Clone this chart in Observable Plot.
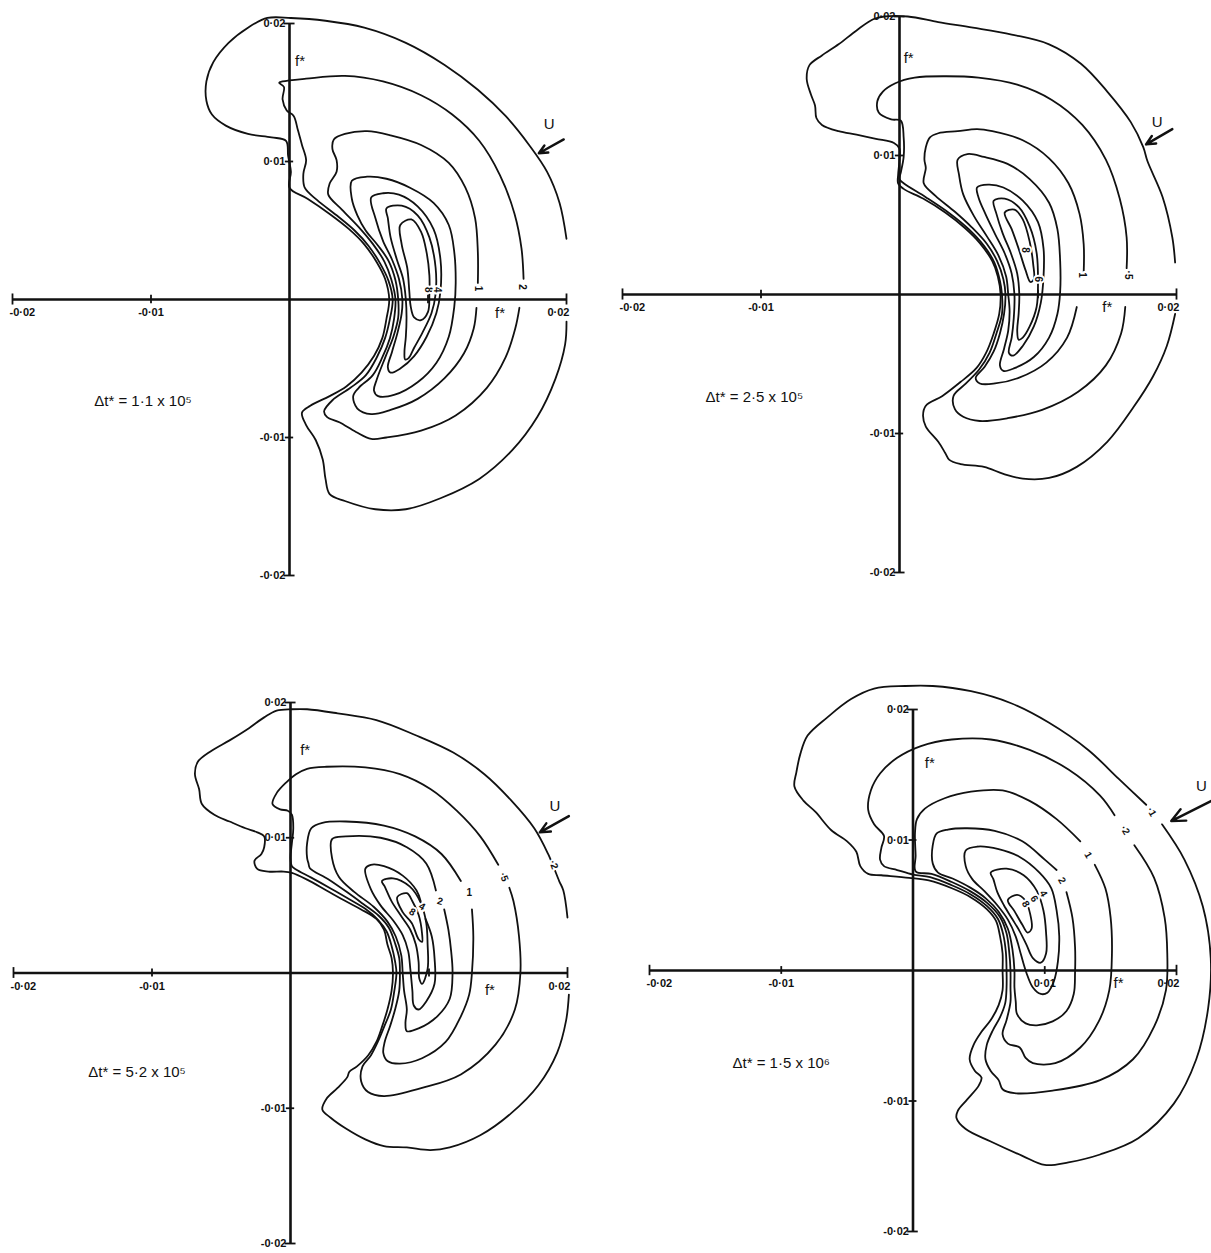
<!DOCTYPE html>
<html>
<head>
<meta charset="utf-8">
<script src="https://cdn.jsdelivr.net/npm/d3@7"></script>
<script src="https://cdn.jsdelivr.net/npm/@observablehq/plot@0.6"></script>
<style>
  html, body { margin: 0; padding: 0; background: #fff; }
  #fig { position: relative; width: 1211px; height: 1253px; overflow: hidden; background: #fff; }
  #fig svg { position: absolute; }
</style>
</head>
<body>
<div id="fig"></div>
<script>
// Contour coordinates (f*, f*) in units of 10^-3; each ring: [level, closed, points]
const ringsA = [
  ["·1", false, [[20.0,4.4],[19.5,7.0],[18.6,9.25],[17.3,11.2],[15.6,13.3],[13.6,15.2],[11.2,17.0],[8.4,18.6],[5.4,19.7],[2.6,20.2],[0.1,20.4],[-1.6,20.4],[-3.0,19.7],[-4.4,18.6],[-5.5,17.2],[-6.0,15.8],[-6.0,14.4],[-5.6,13.4],[-4.6,12.6],[-3.0,12.0],[-1.3,11.75],[-0.25,11.5],[-0.1,10.4],[0.1,9.25],[0,8.1],[1.3,7.3],[2.9,6.2],[4.3,5.1],[5.4,4.0],[6.3,2.7],[6.9,1.5],[7.2,0],[7.0,-1.4],[6.7,-2.8],[6.1,-4.1],[5.2,-5.3],[4.1,-6.3],[2.9,-7.0],[1.5,-7.7],[0.9,-8.2],[1.2,-9.1],[1.9,-10.2],[2.4,-11.6],[2.6,-13.0],[2.9,-14.1],[4.0,-14.6],[6.2,-15.2],[8.4,-15.2],[10.9,-14.4],[13.7,-13.0],[16.1,-10.9],[17.9,-8.5],[19.2,-5.75],[19.9,-3.25],[20.0,-1.6]]],
  ["·2", false, [[16.9,1.5],[16.75,3.7],[16.25,6.2],[15.2,9.0],[13.7,11.5],[11.75,13.4],[9.5,14.8],[6.75,15.8],[4.0,16.2],[1.2,16.0],[-0.5,15.8],[-0.75,15.7],[-0.4,15.4],[-0.5,14.5],[-0.2,13.7],[0.3,13.3],[0.6,12.3],[0.9,11.2],[1.2,10.1],[1.0,9.1],[1.1,8.1],[2.0,7.2],[3.4,6.1],[4.7,5.0],[5.7,3.9],[6.55,2.6],[7.15,1.35],[7.45,0],[7.25,-1.4],[6.9,-2.8],[6.3,-4.2],[5.5,-5.5],[4.4,-6.4],[3.1,-7.3],[2.5,-8.1],[2.7,-8.5],[3.6,-8.9],[4.8,-9.6],[5.9,-10.1],[7.0,-10.0],[9.5,-9.5],[12.0,-8.4],[14.25,-6.4],[15.6,-4.2],[16.3,-2.1],[16.6,-0.6]]],
  ["1", false, [[13.6,1.2],[13.6,3.4],[13.4,5.9],[12.7,8.1],[11.5,9.9],[9.5,11.2],[7.3,11.9],[5.6,12.2],[4.0,12.0],[3.2,11.6],[3.1,10.9],[3.4,10.1],[3.4,9.25],[2.9,8.4],[2.8,7.6],[3.8,6.5],[5.0,5.25],[6.0,4.05],[6.85,2.75],[7.35,1.45],[7.65,0],[7.55,-1.4],[7.25,-2.8],[6.7,-4.2],[6.0,-5.5],[5.0,-6.4],[4.6,-7.0],[4.9,-7.9],[5.9,-8.3],[7.3,-8.0],[9.25,-7.2],[11.2,-5.7],[12.6,-3.9],[13.3,-2.1],[13.5,-0.6]]],
  ["2", true, [[4.5,8.6],[5.6,8.9],[7.0,8.75],[8.7,8.1],[10.4,7.0],[11.5,5.4],[11.9,3.4],[12.0,1.2],[11.9,-0.5],[11.5,-2.7],[10.6,-4.6],[9.25,-6.0],[7.6,-6.9],[6.4,-7.0],[6.1,-6.6],[6.3,-5.8],[6.95,-4.1],[7.5,-2.7],[7.85,-1.3],[7.85,0],[7.65,1.4],[7.15,2.8],[6.4,3.9],[5.5,5.0],[4.9,6.1],[4.5,7.3]]],
  ["4", true, [[5.9,7.4],[6.75,7.7],[7.9,7.6],[9.25,6.75],[10.4,5.1],[10.9,2.9],[10.9,0.6],[10.6,-1.0],[9.9,-2.7],[9.0,-4.1],[8.0,-5.0],[7.3,-5.3],[7.1,-4.9],[7.4,-3.8],[7.8,-2.4],[8.1,-1.0],[8.15,0],[7.9,1.5],[7.4,2.9],[6.75,4.25],[6.2,5.9]]],
  ["6", true, [[7.0,6.6],[8.1,6.8],[9.25,6.1],[10.1,4.5],[10.55,2.3],[10.55,0.4],[10.25,-1.0],[9.6,-2.4],[9.0,-3.5],[8.6,-4.25],[8.35,-4.35],[8.3,-3.8],[8.4,-2.7],[8.45,-1.3],[8.4,0],[8.2,1.5],[7.75,2.9],[7.3,4.5],[7.1,5.9]]],
  ["8", true, [[8.0,5.4],[8.8,5.8],[9.5,4.9],[9.9,3.4],[10.1,1.75],[10.1,0.4],[10.0,-0.9],[9.5,-1.5],[9.0,-1.3],[8.75,-0.5],[8.65,0.6],[8.5,2.3],[8.1,4.0]]]
];

const ringsB = [
  ["·2", false, [[19.9,2.3],[19.7,4.1],[19.0,7.0],[17.9,9.6],[17.6,10.6],[16.7,12.4],[15.0,14.6],[13.1,16.6],[10.8,18.0],[8.1,18.7],[5.3,19.2],[2.8,19.6],[0.6,20.0],[-1.1,20.0],[-1.9,19.8],[-3.1,19.0],[-4.4,18.0],[-5.6,17.2],[-6.5,16.5],[-6.7,15.5],[-6.4,14.4],[-6.1,13.6],[-6.0,12.7],[-5.6,12.2],[-4.4,11.75],[-3.1,11.5],[-1.7,11.2],[-0.4,10.9],[0,10.5],[0,9.7],[-0.1,8.6],[-0.1,8.0],[0.3,7.6],[1.7,6.9],[3.3,5.9],[4.7,4.8],[5.8,3.7],[6.7,2.4],[7.1,1.3],[7.3,0],[7.2,-1.4],[6.8,-2.8],[6.25,-4.2],[5.55,-5.3],[4.4,-6.3],[3.1,-7.3],[1.9,-8.0],[1.7,-8.7],[1.9,-9.5],[2.8,-10.6],[3.3,-11.4],[3.6,-11.9],[4.4,-12.2],[6.1,-12.4],[7.5,-12.9],[8.9,-13.25],[10.8,-13.2],[12.8,-12.4],[15.0,-10.6],[16.9,-8.1],[18.3,-5.9],[19.3,-3.7],[19.9,-1.4]]],
  ["·5", false, [[16.4,1.9],[16.4,4.1],[15.9,6.9],[14.9,9.7],[13.2,12.2],[11.0,14.0],[8.5,15.1],[5.7,15.6],[3.3,15.7],[1.1,15.6],[-0.3,15.2],[-1.2,14.6],[-1.6,13.9],[-1.5,13.1],[-0.6,12.6],[0.1,12.5],[0.3,11.3],[0.3,9.9],[0.1,8.8],[0,8.3],[0.3,8.0],[1.9,7.0],[3.6,5.85],[5.0,4.7],[6.1,3.5],[6.85,2.3],[7.25,1.0],[7.4,0],[7.4,-1.4],[7.0,-2.8],[6.5,-4.2],[5.75,-5.4],[4.8,-6.4],[3.9,-7.3],[4.0,-8.25],[4.6,-8.8],[5.8,-9.1],[7.8,-8.9],[10.3,-8.3],[12.9,-7.0],[14.9,-5.1],[16.0,-2.8],[16.3,-0.9]]],
  ["1", false, [[13.3,1.6],[13.3,3.6],[13.0,5.8],[12.2,8.0],[10.8,9.8],[8.9,11.1],[6.7,11.75],[5.6,11.9],[4.2,11.75],[2.8,11.6],[2.2,11.3],[1.9,10.6],[1.8,9.7],[1.9,9.1],[1.75,8.0],[2.6,7.1],[4.0,5.95],[5.2,4.85],[6.3,3.65],[7.05,2.4],[7.5,1.1],[7.65,0],[7.55,-1.4],[7.25,-2.8],[6.8,-4.1],[6.15,-5.2],[5.5,-6.0],[5.8,-6.4],[6.9,-6.4],[8.6,-6.0],[10.6,-4.9],[12.1,-3.1],[12.8,-0.9]]],
  ["2", true, [[4.2,9.7],[4.9,10.1],[6.1,9.9],[7.8,9.4],[9.4,8.3],[10.8,6.6],[11.4,4.7],[11.6,2.4],[11.6,0.2],[11.4,-1.4],[10.8,-3.1],[9.7,-4.5],[8.3,-5.3],[7.5,-5.5],[7.25,-5.1],[7.55,-3.9],[7.85,-2.6],[7.95,-1.2],[7.85,0],[7.7,1.3],[7.15,2.8],[6.3,4.2],[5.4,5.6],[4.6,7.2],[4.3,8.6]]],
  ["4", true, [[5.6,7.7],[6.4,7.9],[7.5,7.7],[8.9,6.75],[10.0,5.2],[10.4,3.3],[10.4,1.3],[10.2,-0.6],[9.7,-2.3],[8.9,-3.7],[8.2,-4.4],[7.9,-4.2],[8.1,-3.1],[8.25,-1.7],[8.3,0],[8.1,1.5],[7.6,2.95],[6.9,4.35],[6.2,5.8],[5.7,7.0]]],
  ["6", true, [[6.8,6.75],[7.6,6.9],[8.6,6.3],[9.4,4.9],[9.9,3.0],[10.0,0.8],[9.9,-0.9],[9.4,-2.3],[8.9,-3.1],[8.6,-3.25],[8.5,-2.6],[8.6,-1.4],[8.65,0],[8.5,1.5],[8.05,2.95],[7.45,4.4],[7.0,5.8]]],
  ["8", true, [[7.6,5.9],[8.3,6.1],[8.9,5.4],[9.4,3.8],[9.65,2.2],[9.7,1.1],[9.45,0.9],[9.1,1.75],[8.6,3.3],[8.1,4.7]]]
];

const ringsC = [
  ["·2", false, [[20.0,4.1],[19.7,6.1],[19.4,6.8],[18.6,8.8],[17.6,10.7],[15.9,12.8],[14.0,14.7],[11.75,16.3],[9.0,17.6],[6.2,18.7],[3.4,19.2],[1.2,19.5],[0.1,19.5],[-1.0,19.4],[-1.9,18.9],[-3.0,18.1],[-4.4,17.2],[-5.75,16.4],[-6.7,15.6],[-6.9,14.7],[-6.6,13.6],[-6.4,12.5],[-5.5,11.7],[-4.4,11.2],[-3.25,10.7],[-2.4,10.4],[-1.9,10.1],[-1.9,9.3],[-2.1,8.8],[-2.6,8.3],[-2.4,7.7],[-1.6,7.5],[-0.5,7.5],[0.1,7.4],[1.2,6.9],[2.6,6.1],[4.0,5.3],[5.1,4.7],[6.2,4.0],[6.75,3.2],[7.0,2.1],[7.3,1.1],[7.4,0],[7.3,-1.3],[7.0,-2.7],[6.6,-4.0],[6.2,-5.1],[5.6,-6.1],[4.8,-6.9],[4.25,-7.3],[4.1,-7.7],[3.4,-8.5],[2.6,-9.3],[2.3,-10.1],[2.9,-10.7],[4.0,-11.5],[5.4,-12.3],[6.75,-12.8],[8.4,-12.9],[10.1,-13.1],[11.5,-12.9],[13.7,-12.0],[15.9,-10.4],[17.9,-8.3],[19.25,-5.9],[19.9,-3.5],[20.1,-1.6]]],
  ["·5", false, [[15.0,8.0],[13.7,10.1],[12.0,12.0],[10.1,13.6],[7.9,14.7],[5.4,15.2],[2.6,15.25],[1.2,15.1],[0.4,14.7],[-0.3,14.1],[-1.0,13.3],[-1.3,12.5],[-0.75,12.1],[-0.2,12.0],[0.1,11.7],[0.2,10.7],[0.1,9.6],[0,8.5],[0.1,7.9],[0.4,7.65],[1.5,7.05],[2.9,6.25],[4.25,5.45],[5.4,4.75],[6.35,3.9],[6.95,3.05],[7.3,2.0],[7.55,0.85],[7.65,0],[7.5,-1.3],[7.25,-2.7],[6.75,-4.0],[6.3,-5.1],[5.8,-6.1],[5.2,-6.9],[5.1,-8.0],[5.6,-8.8],[6.75,-9.1],[9.5,-8.5],[12.3,-7.5],[14.8,-5.3],[16.2,-2.7],[16.6,0],[16.5,2.7],[16.1,5.3],[15.8,6.3]]],
  ["1", false, [[12.3,6.8],[10.9,8.8],[9.0,10.1],[6.75,10.9],[4.0,11.2],[2.3,11.1],[1.5,10.7],[1.2,9.6],[1.2,8.5],[1.3,8.1],[1.4,7.75],[2.7,6.95],[4.05,6.0],[5.25,5.1],[6.35,4.25],[7.1,3.35],[7.55,2.2],[7.85,1.1],[7.9,0],[7.85,-1.3],[7.55,-2.7],[7.2,-3.9],[6.8,-5.1],[6.7,-5.9],[7.0,-6.5],[7.9,-6.7],[9.5,-6.3],[11.2,-5.1],[12.3,-3.2],[12.9,-1.6],[13.1,0],[13.2,2.7],[13.1,4.7]]],
  ["2", false, [[11.1,4.7],[11.4,3.2],[11.6,1.6],[11.7,0],[11.5,-1.9],[10.6,-3.2],[9.25,-4.1],[8.4,-4.3],[8.3,-3.7],[8.4,-2.7],[8.2,-1.3],[8.1,0],[8.0,1.3],[7.6,2.7],[7.0,3.8],[6.0,4.9],[4.6,6.0],[3.5,7.1],[3.0,8.5],[3.0,9.9],[4.0,10.1],[6.5,10.0],[8.4,9.3],[9.8,8.1],[10.5,6.1]]],
  ["4", false, [[9.75,4.0],[10.2,2.7],[10.4,1.1],[10.4,-0.8],[9.8,-2.1],[9.25,-2.7],[8.9,-2.4],[8.8,-1.3],[8.65,0.3],[8.5,1.6],[8.1,2.8],[7.4,3.9],[6.5,5.0],[5.8,6.2],[5.4,7.7],[5.8,8.0],[6.75,7.9],[8.1,7.2],[9.1,6.1],[9.4,5.3]]],
  ["6", true, [[6.6,6.8],[7.4,7.0],[8.6,6.4],[9.4,5.2],[9.8,3.7],[9.9,2.1],[9.9,0.3],[9.5,-0.8],[9.3,-0.4],[9.25,0.8],[9.05,2.1],[8.65,3.2],[8.0,4.2],[7.3,5.3],[6.8,6.4]]],
  ["8", true, [[7.7,5.6],[8.4,5.9],[8.8,5.3],[9.25,4.3],[9.5,2.9],[9.5,2.3],[9.25,2.5],[8.75,3.7],[8.1,4.5]]]
];

const ringsD = [
  ["·1", false, [[18.9,11.2],[20.6,8.5],[22.0,4.9],[22.6,0.95],[22.4,-2.9],[21.5,-6.8],[19.8,-10.2],[17.1,-12.85],[14.2,-14.1],[11.8,-14.7],[10.0,-14.9],[8.3,-14.2],[5.9,-13.1],[4.0,-12.15],[3.3,-11.3],[3.4,-10.75],[4.1,-9.9],[5.0,-8.8],[5.2,-8.2],[4.7,-7.7],[4.3,-6.8],[4.6,-5.7],[5.2,-4.7],[5.9,-3.8],[6.5,-2.65],[6.8,-1.5],[6.8,0],[6.8,1.3],[6.6,2.65],[6.3,3.8],[5.6,4.7],[4.4,5.6],[2.95,6.3],[1.2,6.9],[-0.3,7.1],[-2.4,7.3],[-3.4,7.4],[-4.0,8.0],[-4.3,9.1],[-5.0,9.9],[-6.2,10.75],[-7.4,12.15],[-8.3,13.0],[-9.0,14.1],[-8.85,15.2],[-8.55,16.6],[-8.0,18.0],[-6.5,19.4],[-4.7,20.8],[-2.95,21.6],[-0.6,21.8],[1.5,21.8],[4.4,21.4],[7.4,20.5],[10.3,19.0],[13.3,16.9],[15.6,14.7],[17.7,12.7]]],
  ["·2", false, [[16.8,9.6],[18.3,7.1],[19.1,4.05],[19.3,1.3],[19.2,-1.5],[18.3,-4.3],[16.7,-6.8],[14.2,-8.4],[10.6,-9.2],[7.7,-9.4],[6.8,-9.1],[6.5,-8.4],[5.9,-7.7],[5.5,-6.8],[5.6,-5.7],[6.05,-4.6],[6.6,-3.6],[7.0,-2.5],[7.1,-1.3],[7.1,0],[7.05,1.4],[6.85,2.75],[6.45,3.95],[5.6,4.95],[4.35,5.85],[2.9,6.55],[1.3,7.15],[0,7.35],[-1.2,7.7],[-2.2,8.0],[-2.5,8.5],[-2.4,9.4],[-2.2,10.3],[-2.95,11.2],[-3.4,12.3],[-3.2,13.8],[-2.5,15.1],[-1.2,16.3],[0.6,17.2],[2.95,17.7],[5.9,17.7],[8.85,16.9],[11.8,15.4],[14.2,13.4],[15.3,11.9]]],
  ["1", false, [[13.8,8.1],[14.6,6.3],[15.0,4.05],[15.1,1.3],[14.9,-1.5],[14.1,-3.9],[12.7,-5.9],[10.8,-7.1],[9.1,-7.1],[8.55,-6.7],[8.1,-5.9],[7.2,-5.6],[6.8,-4.9],[7.1,-3.8],[7.4,-2.4],[7.4,-1.3],[7.4,0],[7.3,1.45],[7.1,2.85],[6.6,4.1],[5.6,5.2],[4.3,6.1],[2.9,6.8],[1.4,7.4],[0.2,7.6],[0.2,8.8],[0.15,10.5],[0.3,11.6],[0.9,12.4],[2.4,13.2],[4.4,13.7],[6.8,13.8],[8.85,13.0],[10.9,11.6],[12.7,9.9]]],
  ["2", false, [[11.65,6.0],[12.1,4.05],[12.3,1.8],[12.3,-0.15],[12.2,-1.8],[11.65,-3.1],[10.6,-3.9],[9.4,-4.2],[8.55,-4.05],[7.9,-3.35],[7.8,-2.4],[7.7,-1.3],[7.7,0],[7.55,1.6],[7.2,3.2],[6.5,4.5],[5.5,5.55],[4.35,6.35],[3.0,7.05],[1.9,7.5],[1.5,8.2],[1.5,9.6],[1.8,10.5],[2.65,10.8],[4.1,10.9],[6.2,10.7],[8.3,9.9],[10.0,8.5],[10.9,7.7]]],
  ["4", true, [[4.0,9.2],[4.9,9.5],[6.5,9.3],[8.1,8.7],[9.6,7.5],[10.5,6.3],[10.9,4.6],[11.1,2.65],[11.0,0.7],[10.7,-0.8],[10.2,-1.7],[9.7,-1.8],[9.1,-1.3],[8.6,-0.15],[8.2,1.2],[7.8,2.6],[7.2,3.9],[6.4,5.0],[5.4,6.1],[4.5,7.0],[4.0,8.0]]],
  ["6", true, [[5.9,7.5],[7.1,7.8],[8.4,7.3],[9.4,6.1],[9.9,4.6],[10.1,2.9],[10.1,1.3],[9.7,0.6],[9.1,0.95],[8.6,2.0],[8.1,3.0],[7.5,4.0],[6.9,5.0],[6.4,6.0],[6.1,7.0]]],
  ["8", true, [[7.2,5.4],[7.9,5.8],[8.5,5.4],[8.9,4.3],[9.0,3.2],[8.7,2.9],[8.3,3.5],[7.7,4.55]]]
];

// Contour level labels: [text, x, y, rotation]
const levelLabelsA = [["8",10.0,0.7,90],["4",10.7,0.7,90],["1",13.6,0.8,90],["2",16.8,0.9,90]];
const levelLabelsB = [["8",9.1,3.2,90],["6",10.0,1.1,90],["1",13.2,1.4,90],["·5",16.5,1.4,90]];
const levelLabelsC = [["8",8.8,4.5,30],["4",9.5,4.9,30],["2",10.8,5.3,15],["1",12.9,5.9,0],["·5",15.4,7.1,70],["·2",19.0,8.0,70]];
const levelLabelsD = [["8",8.55,5.1,60],["6",9.2,5.5,60],["4",9.9,5.9,60],["2",11.3,6.9,60],["1",13.3,8.85,60],["·2",16.1,10.75,60],["·1",18.1,12.15,60]];

// Time-step captions and their anchor points
const captions = ["Δt* = 1·1 x 10⁵", "Δt* = 2·5 x 10⁵", "Δt* = 5·2 x 10⁵", "Δt* = 1·5 x 10⁶"];
const captionAt = [[-14.1,-7.4],[-14.0,-7.4],[-14.6,-7.3],[-13.7,-7.1]];

// Flow direction marker U: [label x, label y, arrow start x, y, arrow end x, y]
const flowU = [
  [18.75,12.7,19.8,11.6,18.0,10.6],
  [18.6,12.4,19.7,11.9,17.8,10.8],
  [19.1,12.3,20.1,11.6,18.0,10.4],
  [21.9,14.1,22.65,13.0,19.6,11.45]
];

// Axis-name labels f*: [y-axis x, y, x-axis x, y]
const axisNames = [[0.4,17.3,15.2,-1.0],[0.3,17.0,15.0,-0.9],[0.7,16.5,14.4,-1.3],[0.9,15.9,15.6,-1.0]];

// Tick values and which tick labels each panel shows
const tickValues = [-0.02, -0.01, 0.01, 0.02];
const xTickLabelSets = [[-0.02,-0.01,0.02],[-0.02,-0.01,0.02],[-0.02,-0.01,0.02],[-0.02,-0.01,0.01,0.02]];
const yTickLabelSets = [[0.02,0.01,-0.01,-0.02],[0.02,0.01,-0.01,-0.02],[0.02,0.01,-0.01,-0.02],[0.02,0.01,-0.01,-0.02]];

// Panel frames on the page and the pixel extents of the ±0.02 axis ends
const frames = [
  {left: 0,   top: 0,   width: 605, height: 640, xRange: [12, 566], yRange: [575, 23]},
  {left: 605, top: 0,   width: 606, height: 640, xRange: [17, 571], yRange: [572, 16]},
  {left: 0,   top: 640, width: 605, height: 613, xRange: [13, 567], yRange: [603, 62]},
  {left: 605, top: 640, width: 606, height: 613, xRange: [44, 571], yRange: [591, 69]}
];

const K = 1e-3;
const FONT = "'Liberation Sans', Arial, sans-serif";
const fmt = v => (v < 0 ? "-" : "") + "0·0" + Math.round(Math.abs(v) * 100);

function panel(i, rings, levelLabels) {
  const fr = frames[i];
  const open = [], closed = [];
  rings.forEach(([lvl, isClosed, pts], j) => {
    const rows = pts.map(([x, y]) => ({x: x * K, y: y * K, id: j, lvl}));
    (isClosed ? closed : open).push(...rows);
  });
  const labels = levelLabels.map(([t, x, y, r]) => ({t, x: x * K, y: y * K, r}));
  const xl = xTickLabelSets[i].map(v => ({v, t: fmt(v)}));
  const yl = yTickLabelSets[i].map(v => ({v, t: fmt(v)}));
  const u = flowU[i];
  const an = axisNames[i];
  const endTick = 0.0004, midTick = 0.0003;
  const tickLen = v => Math.abs(v) > 0.015 ? endTick : midTick;
  const tickFont = {fontSize: 11, fontWeight: "bold", fill: "#111"};

  const svg = Plot.plot({
    width: fr.width,
    height: fr.height,
    margin: 0,
    x: {domain: [-0.02, 0.02], range: fr.xRange, axis: null},
    y: {domain: [-0.02, 0.02], range: fr.yRange, axis: null},
    style: {background: "transparent", overflow: "visible", fontFamily: FONT},
    marks: [
      Plot.line(open, {x: "x", y: "y", z: "id", curve: "catmull-rom", stroke: "#111", strokeWidth: 1.8}),
      Plot.line(closed, {x: "x", y: "y", z: "id", curve: "catmull-rom-closed", stroke: "#111", strokeWidth: 1.8}),
      Plot.text(labels, {x: "x", y: "y", text: "t", rotate: "r", fontSize: 10, fontWeight: "bold",
        fill: "#111", stroke: "white", strokeWidth: 4, paintOrder: "stroke"}),
      // axes through the origin
      Plot.ruleY([0], {x1: -0.02, x2: 0.02, stroke: "#111", strokeWidth: 2.6}),
      Plot.ruleX([0], {y1: -0.02, y2: 0.02, stroke: "#111", strokeWidth: 2.6}),
      Plot.ruleX(tickValues, {x: d => d, y1: d => -tickLen(d), y2: d => tickLen(d), stroke: "#111", strokeWidth: 1.8}),
      Plot.ruleY(tickValues, {y: d => d, x1: d => -tickLen(d), x2: d => tickLen(d), stroke: "#111", strokeWidth: 1.8}),
      // tick labels
      Plot.text(xl.filter(d => d.v === -0.02), {x: "v", y: 0, text: "t", textAnchor: "start", dx: -3, dy: 13, ...tickFont}),
      Plot.text(xl.filter(d => Math.abs(d.v) < 0.015), {x: "v", y: 0, text: "t", dy: 13, ...tickFont}),
      Plot.text(xl.filter(d => d.v === 0.02), {x: "v", y: 0, text: "t", textAnchor: "end", dx: 3, dy: 13, ...tickFont}),
      Plot.text(yl, {x: 0, y: "v", text: "t", textAnchor: "end", dx: -4, ...tickFont}),
      // axis names
      Plot.text([{x: an[0] * K, y: an[1] * K}], {x: "x", y: "y", text: () => "f*", textAnchor: "start", fontSize: 15, fill: "#111"}),
      Plot.text([{x: an[2] * K, y: an[3] * K}], {x: "x", y: "y", text: () => "f*", fontSize: 15, fill: "#111"}),
      // flow direction
      Plot.text([{x: u[0] * K, y: u[1] * K}], {x: "x", y: "y", text: () => "U", fontSize: 15, fill: "#111"}),
      Plot.arrow([{x1: u[2] * K, y1: u[3] * K, x2: u[4] * K, y2: u[5] * K}],
        {x1: "x1", y1: "y1", x2: "x2", y2: "y2", stroke: "#111", strokeWidth: 2.4, headLength: 10, headAngle: 50}),
      // caption
      Plot.text([{x: captionAt[i][0] * K, y: captionAt[i][1] * K, t: captions[i]}],
        {x: "x", y: "y", text: "t", textAnchor: "start", fontSize: 15, fill: "#111"})
    ]
  });
  svg.style.left = fr.left + "px";
  svg.style.top = fr.top + "px";
  return svg;
}

const fig = document.getElementById("fig");
fig.appendChild(panel(0, ringsA, levelLabelsA));
fig.appendChild(panel(1, ringsB, levelLabelsB));
fig.appendChild(panel(2, ringsC, levelLabelsC));
fig.appendChild(panel(3, ringsD, levelLabelsD));
</script>
</body>
</html>
